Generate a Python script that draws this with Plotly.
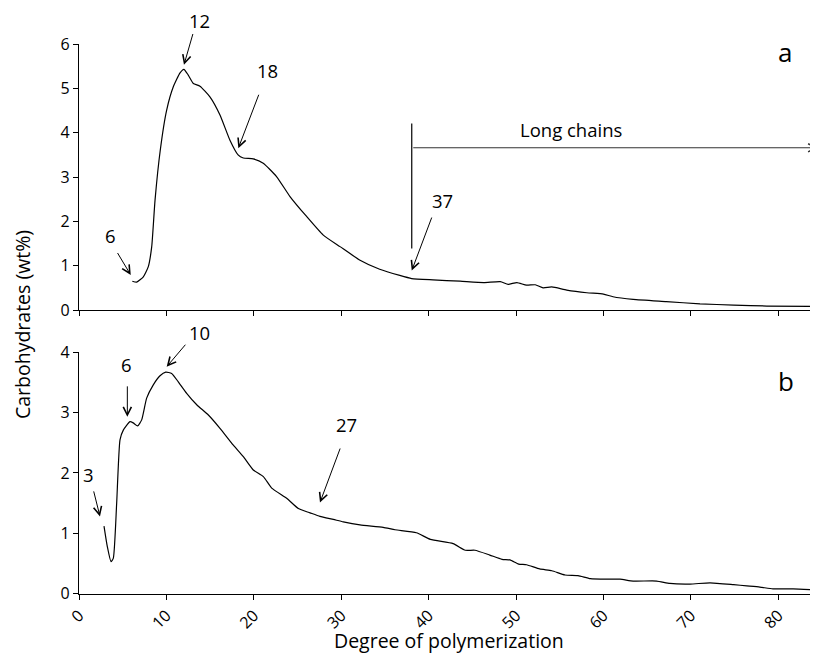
import plotly.graph_objects as go

# ---- Data ----
dp_a = [6.1, 6.6, 7.36, 7.93, 8.32, 8.7, 9.3, 10.03, 10.8, 11.56, 12.0, 12.5, 13.08, 13.84,
        14.98, 16.13, 17.27, 18.2, 18.8, 19.94, 21.08, 22.6, 24.14, 26.04, 27.95, 29.86,
        32.1, 34.4, 36.7, 38.06, 40.5, 43.6, 46.3, 48.2, 49.1, 50.1, 51.2, 52.2, 53.1,
        54.1, 55.8, 58.1, 60.0, 61.1, 63.4, 67.2, 71.05, 74.9, 78.7, 84.5]
wt_a = [0.65, 0.63, 0.75, 0.98, 1.43, 2.48, 3.61, 4.51, 5.04, 5.35, 5.43, 5.30, 5.11, 5.05,
        4.81, 4.40, 3.83, 3.50, 3.43, 3.41, 3.31, 3.01, 2.56, 2.11, 1.69, 1.43,
        1.13, 0.92, 0.78, 0.71, 0.68, 0.65, 0.62, 0.64, 0.58, 0.62, 0.56, 0.57, 0.50,
        0.52, 0.45, 0.39, 0.36, 0.30, 0.24, 0.19, 0.14, 0.11, 0.09, 0.08]

dp_b = [2.86, 3.24, 3.66, 3.93, 4.31, 4.69, 5.07, 5.84, 6.2, 6.71, 7.17, 7.74, 8.5, 9.27,
        9.92, 10.6, 11.36, 12.32, 13.47, 14.8, 16.13, 17.66, 18.8, 19.94, 21.09, 22.05,
        23.76, 25.1, 26.43, 27.57, 29.1, 30.24, 32.15, 34.8, 36.16, 38.6, 40.2, 42.8,
        44.2, 45.3, 47.0, 48.4, 49.3, 50.3, 51.2, 52.7, 54.1, 55.6, 57.1, 58.5, 60.4,
        61.9, 63.4, 66.1, 67.6, 69.9, 72.2, 74.9, 76.4, 77.9, 79.4, 81.7, 84.5]
wt_b = [1.12, 0.78, 0.53, 0.59, 1.50, 2.55, 2.71, 2.85, 2.83, 2.78, 2.88, 3.24, 3.46, 3.61,
        3.67, 3.65, 3.51, 3.32, 3.13, 2.96, 2.74, 2.46, 2.27, 2.05, 1.94, 1.75,
        1.58, 1.41, 1.34, 1.28, 1.23, 1.19, 1.14, 1.10, 1.06, 1.01, 0.90, 0.83,
        0.72, 0.72, 0.64, 0.57, 0.56, 0.49, 0.48, 0.41, 0.38, 0.31, 0.30, 0.25, 0.24,
        0.24, 0.21, 0.21, 0.17, 0.16, 0.18, 0.15, 0.13, 0.11, 0.08, 0.08, 0.06]

x_ticks = [0, 10, 20, 30, 40, 50, 60, 70, 80]
y_ticks_a = [0, 1, 2, 3, 4, 5, 6]
y_ticks_b = [0, 1, 2, 3, 4]

# peak labels: text, text position, arrow tail, arrow head (data units)
labels_a = ["12", "18", "6", "37"]
text_xy_a = [(13.84, 6.54), (21.59, 5.40), (3.55, 1.67), (41.57, 2.48)]
tail_a = [(13.08, 6.26), (20.63, 4.89), (4.31, 1.32), (40.42, 2.12)]
head_a = [(12.01, 5.53), (18.23, 3.65), (5.92, 0.79), (38.07, 0.89)]

labels_b = ["10", "6", "3", "27"]
text_xy_b = [(13.84, 4.32), (5.46, 3.80), (1.06, 1.98), (30.63, 2.81)]
tail_b = [(12.32, 4.15), (5.53, 3.46), (1.64, 1.72), (29.94, 2.43)]
head_b = [(10.03, 3.76), (5.53, 2.93), (2.40, 1.28), (27.57, 1.51)]

long_chain_start = 38.07
long_chain_y = 3.66
long_chain_vline = (1.39, 4.21)
x_max = 84.55
y_max_a = 6
y_max_b = 4

FONT = "Open Sans"

fig = go.Figure()
fig.add_trace(go.Scatter(x=dp_a, y=wt_a, mode="lines", xaxis="x", yaxis="y",
                         line=dict(color="black", width=1.2, shape="spline", smoothing=0.5),
                         showlegend=False))
fig.add_trace(go.Scatter(x=dp_b, y=wt_b, mode="lines", xaxis="x2", yaxis="y2",
                         line=dict(color="black", width=1.2, shape="spline", smoothing=0.5),
                         showlegend=False))

annotations = []


def add_labels(labels, txy, tails, heads, xr, yr, ymax):
    for t, (tx, ty), (ax, ay), (hx, hy) in zip(labels, txy, tails, heads):
        # text placed in axis-domain units so labels above the range stay visible
        annotations.append(dict(x=tx, y=ty / ymax, xref=xr, yref=yr + " domain", text=t,
                                xanchor="center", yanchor="middle", showarrow=False,
                                font=dict(family=FONT, size=18.5, color="black")))
        annotations.append(dict(x=hx, y=hy, ax=ax, ay=ay, xref=xr, yref=yr,
                                axref=xr, ayref=yr, text="", showarrow=True,
                                arrowhead=5, arrowsize=1.6, arrowwidth=1,
                                arrowcolor="black", standoff=0, startstandoff=0))


add_labels(labels_a, text_xy_a, tail_a, head_a, "x", "y", y_max_a)
add_labels(labels_b, text_xy_b, tail_b, head_b, "x2", "y2", y_max_b)

annotations.append(dict(x=80.78, y=5.83, xref="x", yref="y", text="a", showarrow=False,
                        xanchor="center", yanchor="middle",
                        font=dict(family=FONT, size=26, color="black")))
annotations.append(dict(x=80.86, y=3.52, xref="x2", yref="y2", text="b", showarrow=False,
                        xanchor="center", yanchor="middle",
                        font=dict(family=FONT, size=26, color="black")))
annotations.append(dict(x=56.26, y=4.08, xref="x", yref="y", text="Long chains",
                        xanchor="center", yanchor="middle",
                        showarrow=False, font=dict(family=FONT, size=18.5, color="black")))
annotations.append(dict(x=x_max, y=long_chain_y, ax=long_chain_start, ay=long_chain_y,
                        xref="x", yref="y", axref="x", ayref="y", text="", showarrow=True,
                        arrowhead=5, arrowsize=1.6, arrowwidth=1, arrowcolor="#333",
                        standoff=0, startstandoff=0))
annotations.append(dict(x=-0.0771, y=0.516, xref="paper", yref="paper",
                        xanchor="center", yanchor="middle",
                        text="Carbohydrates (wt%)", textangle=-90, showarrow=False,
                        font=dict(family=FONT, size=19.5, color="black")))
annotations.append(dict(x=0.5, y=0.0351, xref="paper", yref="paper",
                        xanchor="center", yanchor="middle",
                        text="Degree of polymerization", showarrow=False,
                        font=dict(family=FONT, size=19.5, color="black")))

shapes = [dict(type="line", xref="x", yref="y", x0=long_chain_start, x1=long_chain_start,
               y0=long_chain_vline[0], y1=long_chain_vline[1],
               line=dict(color="black", width=1.2))]

axis_common = dict(showgrid=False, zeroline=False, showline=True, linecolor="black",
                   linewidth=1.2, ticks="outside", tickcolor="black", tickwidth=1.2,
                   tickfont=dict(family=FONT, size=16, color="black"), automargin=False)

# The page body has an 8px default margin, so the figure is 8px smaller each way.
fig.update_layout(
    width=810, height=655,
    margin=dict(l=71, r=0, t=0, b=0),
    plot_bgcolor="white", paper_bgcolor="white",
    font=dict(family=FONT, color="black"),
    xaxis=dict(range=[0, x_max], domain=[0, 1], anchor="y", tickvals=x_ticks,
               showticklabels=False, ticklen=5, **axis_common),
    yaxis=dict(range=[0, y_max_a], domain=[0.5389, 0.9450], anchor="x", tickvals=y_ticks_a,
               ticklen=5, **axis_common),
    xaxis2=dict(range=[0, x_max], domain=[0, 1], anchor="y2", tickvals=x_ticks,
                tickangle=-45, ticklen=5, **axis_common),
    yaxis2=dict(range=[0, y_max_b], domain=[0.1058, 0.4744], anchor="x2", tickvals=y_ticks_b,
                ticklen=5, **axis_common),
    annotations=annotations,
    shapes=shapes,
)

fig.write_html("out.html")
